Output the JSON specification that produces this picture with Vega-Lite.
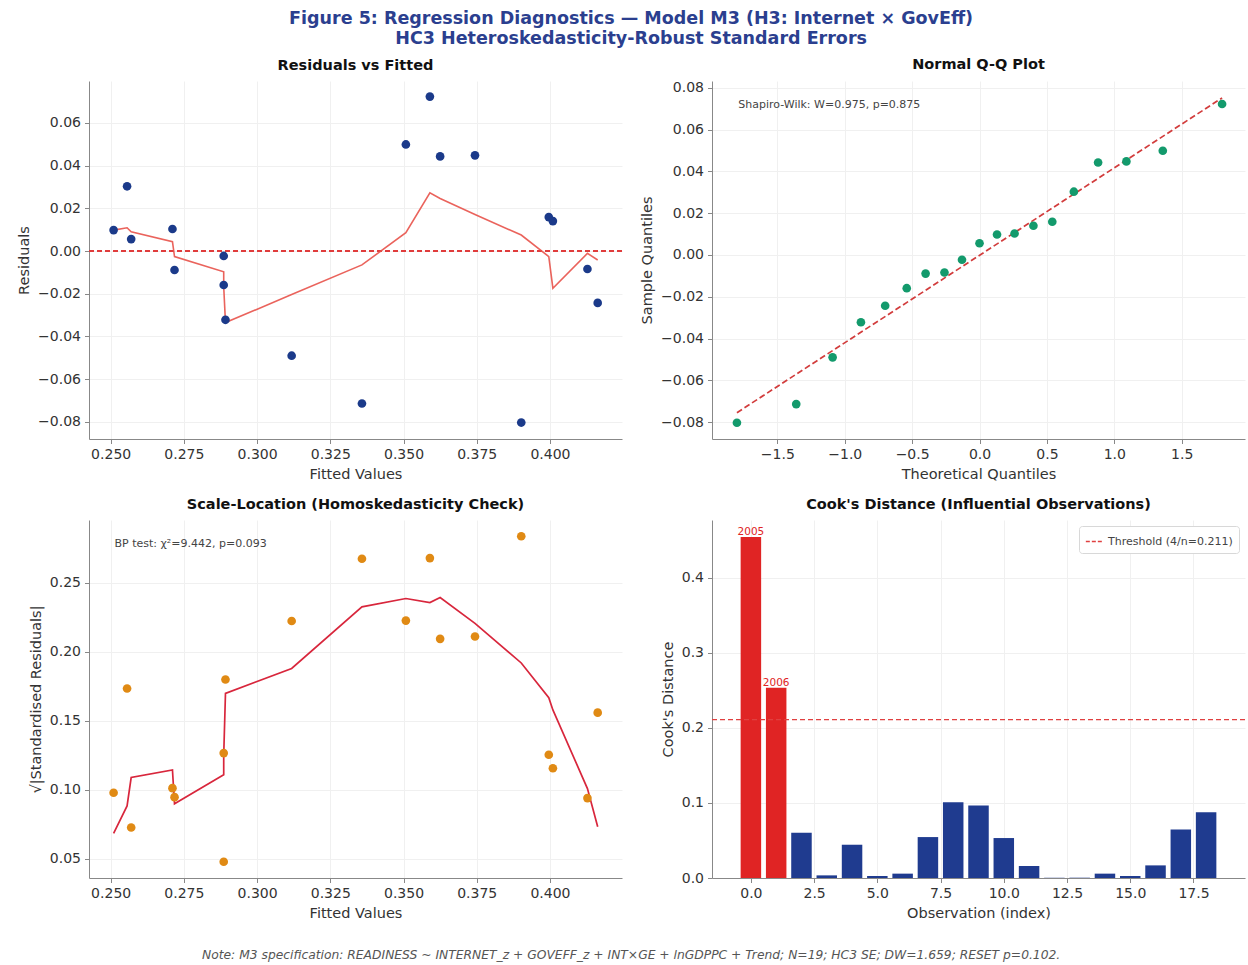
{
  "$schema": "https://vega.github.io/schema/vega-lite/v6.json",
  "padding": {"left": 16, "top": 9, "right": 2, "bottom": 4},
  "background": "white",
  "title": {
    "text": ["Figure 5: Regression Diagnostics — Model M3 (H3: Internet × GovEff)", "HC3 Heteroskedasticity-Robust Standard Errors"],
    "fontSize": 17.5, "fontWeight": "bold", "color": "#2b3f8f", "lineHeight": 20, "anchor": "middle", "offset": 10
  },
  "datasets": {
    "obs": [
      {"i": 1, "fitted": 0.2510, "resid": 0.0098, "sl": 0.098, "lr": 0.0098, "ls": 0.0685},
      {"i": 2, "fitted": 0.2556, "resid": 0.0303, "sl": 0.1735, "lr": 0.0109, "ls": 0.0884},
      {"i": 3, "fitted": 0.2570, "resid": 0.0056, "sl": 0.0728, "lr": 0.0090, "ls": 0.109},
      {"i": 4, "fitted": 0.2711, "resid": 0.0103, "sl": 0.1013, "lr": 0.0044, "ls": 0.1145},
      {"i": 5, "fitted": 0.2718, "resid": -0.0089, "sl": 0.0948, "lr": -0.0026, "ls": 0.090},
      {"i": 6, "fitted": 0.2886, "resid": -0.0023, "sl": 0.048, "lr": -0.0097, "ls": 0.111},
      {"i": 7, "fitted": 0.2886, "resid": -0.0159, "sl": 0.1267, "lr": -0.0167, "ls": 0.125},
      {"i": 8, "fitted": 0.2892, "resid": -0.0322, "sl": 0.180, "lr": -0.0335, "ls": 0.170},
      {"i": 9, "fitted": 0.3118, "resid": -0.0490, "sl": 0.2224, "lr": -0.0204, "ls": 0.188},
      {"i": 10, "fitted": 0.3358, "resid": -0.0714, "sl": 0.2675, "lr": -0.0065, "ls": 0.2327},
      {"i": 11, "fitted": 0.3508, "resid": 0.0499, "sl": 0.2227, "lr": 0.0086, "ls": 0.2387},
      {"i": 12, "fitted": 0.3590, "resid": 0.0723, "sl": 0.268, "lr": 0.0273, "ls": 0.2358},
      {"i": 13, "fitted": 0.3625, "resid": 0.0443, "sl": 0.2095, "lr": 0.0246, "ls": 0.2394},
      {"i": 14, "fitted": 0.3744, "resid": 0.0448, "sl": 0.2112, "lr": 0.0171, "ls": 0.2207},
      {"i": 15, "fitted": 0.3902, "resid": -0.0803, "sl": 0.2838, "lr": 0.0075, "ls": 0.192},
      {"i": 16, "fitted": 0.3996, "resid": 0.0159, "sl": 0.1255, "lr": -0.0026, "ls": 0.1668},
      {"i": 17, "fitted": 0.4010, "resid": 0.0140, "sl": 0.1157, "lr": -0.0174, "ls": 0.158},
      {"i": 18, "fitted": 0.4128, "resid": -0.0084, "sl": 0.0941, "lr": -0.0011, "ls": 0.101},
      {"i": 19, "fitted": 0.4163, "resid": -0.0243, "sl": 0.156, "lr": -0.0042, "ls": 0.0733}
    ],
    "qq": [
      {"theo": -1.80, "samp": -0.0803}, {"theo": -1.36, "samp": -0.0714}, {"theo": -1.09, "samp": -0.0490},
      {"theo": -0.88, "samp": -0.0322}, {"theo": -0.70, "samp": -0.0243}, {"theo": -0.54, "samp": -0.0159},
      {"theo": -0.40, "samp": -0.0089}, {"theo": -0.26, "samp": -0.0084}, {"theo": -0.13, "samp": -0.0023},
      {"theo": 0.00, "samp": 0.0056}, {"theo": 0.13, "samp": 0.0098}, {"theo": 0.26, "samp": 0.0103},
      {"theo": 0.40, "samp": 0.0140}, {"theo": 0.54, "samp": 0.0159}, {"theo": 0.70, "samp": 0.0303},
      {"theo": 0.88, "samp": 0.0443}, {"theo": 1.09, "samp": 0.0448}, {"theo": 1.36, "samp": 0.0499},
      {"theo": 1.80, "samp": 0.0723}
    ],
    "qqline": [{"theo": -1.80, "fit": -0.0755}, {"theo": 1.80, "fit": 0.0752}],
    "cook": [
      {"obs": 0, "d": 0.454, "group": "influential", "label": "2005"},
      {"obs": 1, "d": 0.2534, "group": "influential", "label": "2006"},
      {"obs": 2, "d": 0.0602, "group": "normal", "label": ""},
      {"obs": 3, "d": 0.0035, "group": "normal", "label": ""},
      {"obs": 4, "d": 0.0443, "group": "normal", "label": ""},
      {"obs": 5, "d": 0.0027, "group": "normal", "label": ""},
      {"obs": 6, "d": 0.0058, "group": "normal", "label": ""},
      {"obs": 7, "d": 0.0545, "group": "normal", "label": ""},
      {"obs": 8, "d": 0.101, "group": "normal", "label": ""},
      {"obs": 9, "d": 0.0966, "group": "normal", "label": ""},
      {"obs": 10, "d": 0.0532, "group": "normal", "label": ""},
      {"obs": 11, "d": 0.016, "group": "normal", "label": ""},
      {"obs": 12, "d": 0.0003, "group": "normal", "label": ""},
      {"obs": 13, "d": 0.0004, "group": "normal", "label": ""},
      {"obs": 14, "d": 0.0058, "group": "normal", "label": ""},
      {"obs": 15, "d": 0.0027, "group": "normal", "label": ""},
      {"obs": 16, "d": 0.0168, "group": "normal", "label": ""},
      {"obs": 17, "d": 0.0647, "group": "normal", "label": ""},
      {"obs": 18, "d": 0.0877, "group": "normal", "label": ""}
    ],
    "one": [{"k": 1}]
  },
  "vconcat": [
    {
      "title": {
        "text": "Note: M3 specification: READINESS ~ INTERNET_z + GOVEFF_z + INT×GE + lnGDPPC + Trend; N=19; HC3 SE; DW=1.659; RESET p=0.102.",
        "orient": "bottom", "anchor": "middle", "fontSize": 12.3, "fontStyle": "italic", "fontWeight": "normal", "color": "#555", "offset": 29
      },
      "columns": 2,
      "bounds": "flush",
      "spacing": {"row": 81, "column": 90},
      "concat": [
        {
          "width": 533, "height": 358,
          "title": {"text": "Residuals vs Fitted", "fontSize": 14.5, "fontWeight": "bold", "color": "#111", "offset": 8},
          "data": {"name": "obs"},
          "layer": [
            {
              "mark": {"type": "rule", "color": "#e03c3c", "strokeDash": [5, 3], "strokeWidth": 1.3},
              "encoding": {"y": {"datum": 0, "type": "quantitative"}}
            },
            {
              "mark": {"type": "line", "color": "#e8524a", "strokeWidth": 1.6, "opacity": 0.9},
              "encoding": {
                "x": {"field": "fitted", "type": "quantitative"},
                "y": {"field": "lr", "type": "quantitative"},
                "order": {"field": "i"}
              }
            },
            {
              "mark": {"type": "circle", "size": 75, "color": "#1b3a8a", "opacity": 1},
              "encoding": {
                "x": {"field": "fitted", "type": "quantitative", "title": "Fitted Values",
                      "scale": {"domain": [0.2426, 0.4246], "nice": false, "zero": false},
                      "axis": {"values": [0.25, 0.275, 0.3, 0.325, 0.35, 0.375, 0.4], "format": ".3f"}},
                "y": {"field": "resid", "type": "quantitative", "title": "Residuals",
                      "scale": {"domain": [-0.088, 0.0796], "nice": false, "zero": false},
                      "axis": {"values": [-0.08, -0.06, -0.04, -0.02, 0, 0.02, 0.04, 0.06], "format": ".2f"}}
              }
            }
          ]
        },
        {
          "width": 533, "height": 358,
          "title": {"text": "Normal Q-Q Plot", "fontSize": 14.5, "fontWeight": "bold", "color": "#111", "offset": 8},
          "layer": [
            {
              "data": {"name": "qqline"},
              "mark": {"type": "line", "color": "#d23c3c", "strokeDash": [6, 3], "strokeWidth": 1.7},
              "encoding": {
                "x": {"field": "theo", "type": "quantitative"},
                "y": {"field": "fit", "type": "quantitative"}
              }
            },
            {
              "data": {"name": "qq"},
              "mark": {"type": "circle", "size": 75, "color": "#139a6c", "opacity": 1},
              "encoding": {
                "x": {"field": "theo", "type": "quantitative", "title": "Theoretical Quantiles",
                      "scale": {"domain": [-1.985, 1.97], "nice": false, "zero": false},
                      "axis": {"values": [-1.5, -1, -0.5, 0, 0.5, 1, 1.5], "format": ".1f"}},
                "y": {"field": "samp", "type": "quantitative", "title": "Sample Quantiles",
                      "scale": {"domain": [-0.0881, 0.0833], "nice": false, "zero": false},
                      "axis": {"values": [-0.08, -0.06, -0.04, -0.02, 0, 0.02, 0.04, 0.06, 0.08], "format": ".2f"}}
              }
            },
            {
              "data": {"name": "one"},
              "mark": {"type": "text", "text": "Shapiro-Wilk: W=0.975, p=0.875", "align": "left", "baseline": "middle", "fontSize": 11, "color": "#444"},
              "encoding": {
                "x": {"datum": -1.79, "type": "quantitative"},
                "y": {"datum": 0.072, "type": "quantitative"}
              }
            }
          ]
        },
        {
          "width": 533, "height": 358,
          "title": {"text": "Scale-Location (Homoskedasticity Check)", "fontSize": 14.5, "fontWeight": "bold", "color": "#111", "offset": 8},
          "layer": [
            {
              "data": {"name": "obs"},
              "mark": {"type": "line", "color": "#d8263c", "strokeWidth": 1.7},
              "encoding": {
                "x": {"field": "fitted", "type": "quantitative"},
                "y": {"field": "ls", "type": "quantitative"},
                "order": {"field": "i"}
              }
            },
            {
              "data": {"name": "obs"},
              "mark": {"type": "circle", "size": 75, "color": "#e08a14", "opacity": 1},
              "encoding": {
                "x": {"field": "fitted", "type": "quantitative", "title": "Fitted Values",
                      "scale": {"domain": [0.2426, 0.4246], "nice": false, "zero": false},
                      "axis": {"values": [0.25, 0.275, 0.3, 0.325, 0.35, 0.375, 0.4], "format": ".3f"}},
                "y": {"field": "sl", "type": "quantitative", "title": "√|Standardised Residuals|",
                      "scale": {"domain": [0.0362, 0.2956], "nice": false, "zero": false},
                      "axis": {"values": [0.05, 0.1, 0.15, 0.2, 0.25], "format": ".2f"}}
              }
            },
            {
              "data": {"name": "one"},
              "mark": {"type": "text", "text": "BP test: χ²=9.442, p=0.093", "align": "left", "baseline": "middle", "fontSize": 11, "color": "#444"},
              "encoding": {
                "x": {"datum": 0.2513, "type": "quantitative"},
                "y": {"datum": 0.278, "type": "quantitative"}
              }
            }
          ]
        },
        {
          "width": 533, "height": 358,
          "title": {"text": "Cook's Distance (Influential Observations)", "fontSize": 14.5, "fontWeight": "bold", "color": "#111", "offset": 8},
          "resolve": {"scale": {"color": "independent"}},
          "layer": [
            {
              "data": {"name": "cook"},
              "mark": {"type": "bar", "width": 20.5},
              "encoding": {
                "x": {"field": "obs", "type": "quantitative", "title": "Observation (index)",
                      "scale": {"domain": [-1.34, 19.34], "nice": false, "zero": false},
                      "axis": {"values": [0, 2.5, 5, 7.5, 10, 12.5, 15, 17.5], "format": ".1f"}},
                "y": {"field": "d", "type": "quantitative", "title": "Cook's Distance",
                      "scale": {"domain": [0, 0.4767], "nice": false},
                      "axis": {"values": [0, 0.1, 0.2, 0.3, 0.4], "format": ".1f"}},
                "color": {"field": "group", "type": "nominal",
                          "scale": {"domain": ["influential", "normal"], "range": ["#e02424", "#1f3b8f"]},
                          "legend": null}
              }
            },
            {
              "data": {"name": "cook"},
              "transform": [{"filter": "datum.label != ''"}],
              "mark": {"type": "text", "fontSize": 10.5, "color": "#e02424", "baseline": "bottom", "dy": 0},
              "encoding": {
                "x": {"field": "obs", "type": "quantitative"},
                "y": {"field": "d", "type": "quantitative"},
                "text": {"field": "label"}
              }
            },
            {
              "data": {"name": "one"},
              "mark": {"type": "rule", "strokeDash": [5, 3], "strokeWidth": 1.3},
              "encoding": {
                "y": {"datum": 0.211, "type": "quantitative"},
                "color": {"datum": "Threshold (4/n=0.211)",
                          "scale": {"range": ["#e04040"]},
                          "legend": {"title": null, "orient": "top-right", "symbolType": "stroke", "symbolDash": [4, 2],
                                     "symbolStrokeWidth": 1.5, "symbolSize": 300, "labelFontSize": 11, "labelColor": "#444",
                                     "strokeColor": "#d8d8d8", "fillColor": "white", "padding": 6, "cornerRadius": 3, "offset": 6}}
              }
            }
          ]
        }
      ]
    }
  ],
  "config": {
    "font": "DejaVu Sans",
    "view": {"stroke": null},
    "axis": {
      "labelFontSize": 14, "titleFontSize": 14.5, "titleFontWeight": "normal",
      "labelColor": "#333", "titleColor": "#333",
      "domainColor": "#888", "tickColor": "#888", "tickSize": 4.5,
      "grid": true, "gridColor": "#f0f0f0", "labelPadding": 4, "titlePadding": 6
    }
  }
}
